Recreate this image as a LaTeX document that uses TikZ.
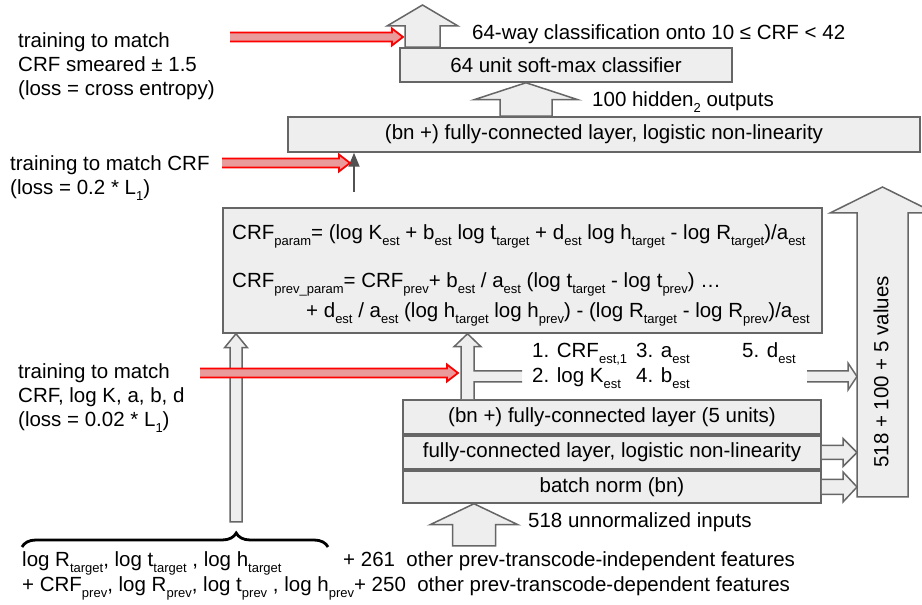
\documentclass[tikz,border=0pt]{standalone}
\usepackage{fontspec}
\setmainfont{Liberation Sans}
\usepackage{tikz}
\usetikzlibrary{arrows.meta}
\usetikzlibrary{calc}
\usetikzlibrary{decorations.pathreplacing}
\usetikzlibrary{positioning}

\definecolor{boxfill}{HTML}{EEEEEE}
\definecolor{boxline}{HTML}{666666}
\definecolor{redfill}{HTML}{E99A9A}

\newcommand{\txt}{\fontsize{20.5}{24}\selectfont}
\newcommand{\lowsub}[1]{\raisebox{-6pt}{\fontsize{13}{13}\selectfont #1}}

\tikzset{
  layer/.style={draw=boxline, fill=boxfill, line width=1.5pt, inner sep=0pt},
  blockarrow/.style={draw=boxline, fill=boxfill, line width=1.5pt},
  redarrow/.style={draw=red, fill=redfill, line width=1.8pt},
  thinarrow/.style={draw=boxline!80!black, line width=1.8pt, -{Triangle[length=14pt, width=11pt]}},
  featbrace/.style={decorate, decoration={brace, amplitude=14pt, aspect=0.7}, line width=2.8pt, black}
}

% upward block arrow: tail, tip, half shaft, half head, head length
\newcommand{\uparr}[5]{%
  \path[blockarrow] let \p1=(#1), \p2=(#2) in
    (\x1-#3,\y1) -- (\x1-#3,\y2-#5) -- (\x1-#4,\y2-#5) -- (\x1,\y2)
    -- (\x1+#4,\y2-#5) -- (\x1+#3,\y2-#5) -- (\x1+#3,\y1) -- cycle;}

% rightward block arrow with open tail
\newcommand{\rtarr}[6][blockarrow]{%
  \path[#1, draw=none] let \p1=(#2), \p2=(#3) in
    (\x1,\y1-#4) -- (\x2-#6,\y1-#4) -- (\x2-#6,\y1-#5) -- (\x2,\y1)
    -- (\x2-#6,\y1+#5) -- (\x2-#6,\y1+#4) -- (\x1,\y1+#4) -- cycle;
  \path[#1, fill=none] let \p1=(#2), \p2=(#3) in
    (\x1,\y1-#4) -- (\x2-#6,\y1-#4) -- (\x2-#6,\y1-#5) -- (\x2,\y1)
    -- (\x2-#6,\y1+#5) -- (\x2-#6,\y1+#4) -- (\x1,\y1+#4);}

\begin{document}
\begin{tikzpicture}[x=1pt, y=1pt, font=\txt, every node/.style={inner sep=0pt}]
    \useasboundingbox (0,0) rectangle (922,605);

    \begin{scope}[every node/.style={layer}]
        \node[minimum width=332pt, minimum height=34pt] (softmax) at (566,540) {64 unit soft-max classifier};
        \node[minimum width=632pt, minimum height=35pt] (fc2) at (604,470.5) {(bn +) fully-connected layer, logistic non-linearity};
        \node[minimum width=599pt, minimum height=125pt] (params) at (522.5,334.5) {};
        \node[minimum width=418pt, minimum height=34pt] (fc5) at (612,188) {(bn +) fully-connected layer (5 units)};
        \node[minimum width=418pt, minimum height=33pt] (fc1) at (612,152.5) {fully-connected layer, logistic non-linearity};
        \node[minimum width=418pt, minimum height=32pt] (bn) at (612,118) {batch norm (bn)};
    \end{scope}

    \coordinate (top) at (422.5,600);
    \coordinate (hid) at (526,0);
    \coordinate (allin) at (882.5,108);
    \coordinate (allout) at (882.5,418);
    \coordinate (allleft) at (857,108);
    \coordinate (feat) at (236,83);
    \coordinate (raw) at (474,59);
    \coordinate (est) at (467.5,0);
    \coordinate (estout) at (807,228.5);
    \coordinate (crf) at (354,413);

    \uparr{top |- softmax.north}{top}{17.5}{35.5}{21}
    \uparr{hid |- fc2.north}{hid |- softmax.south}{26}{52}{17}
    \uparr{allin}{allout}{25.5}{52.5}{26}
    \uparr{feat}{feat |- params.south}{6}{11.5}{14}
    \uparr{raw}{raw |- bn.south}{21.5}{44}{21}

    \path[blockarrow, draw=none] let \p1=(est |- fc5.north), \p2=(est |- params.south) in
        (\x1-6.5,\y1) -- (\x1-6.5,\y2-13) -- (\x1-13.5,\y2-13) -- (\x2,\y2) -- (\x1+13.5,\y2-13)
        -- (\x1+6.5,\y2-13) -- (\x1+6.5,234) -- (522,234) -- (522,223) -- (\x1+6.5,223) -- (\x1+6.5,\y1) -- cycle;
    \path[blockarrow, fill=none] let \p1=(est |- fc5.north), \p2=(est |- params.south) in
        (522,234) -- (\x1+6.5,234) -- (\x1+6.5,\y2-13) -- (\x1+13.5,\y2-13) -- (\x2,\y2)
        -- (\x1-13.5,\y2-13) -- (\x1-6.5,\y2-13) -- (\x1-6.5,\y1)
        (\x1+6.5,\y1) -- (\x1+6.5,223) -- (522,223);

    \rtarr{estout}{estout -| allleft}{5.5}{13.5}{9}
    \rtarr{fc1.east}{fc1.east -| allleft}{7}{14}{14}
    \rtarr{bn.east}{bn.east -| allleft}{7.5}{15}{14}

    \draw[thinarrow] (crf) -- (crf |- fc2.south);

    \coordinate (r1) at (230,568);
    \coordinate (r1e) at (403,568);
    \coordinate (r2) at (222,442);
    \coordinate (r2e) at (350,442);
    \coordinate (r3) at (200,232);
    \coordinate (r3e) at (458,232);
    \rtarr[redarrow]{r1}{r1e}{4.5}{8.5}{11}
    \rtarr[redarrow]{r2}{r2e}{4.5}{8.5}{11}
    \rtarr[redarrow]{r3}{r3e}{4.5}{8.5}{11}

    \node[anchor=north west, align=left] (target1) at (18,573) {training to match\\CRF smeared ± 1.5\\(loss = cross entropy)};
    \node[anchor=north west, align=left] (target2) at (10,450) {training to match CRF\\(loss = 0.2 * L\lowsub{1})};
    \node[anchor=north west, align=left] (target3) at (18,242) {training to match\\CRF, log K, a, b, d\\(loss = 0.02 * L\lowsub{1})};

    \node[anchor=base west] (classes) at (472,565) {64-way classification onto 10 ≤ CRF < 42};
    \node[anchor=base west] (hidden) at (592,498) {100 hidden\lowsub{2} outputs};
    \node[anchor=base west] (inputs) at (528,77) {518 unnormalized inputs};
    \node[rotate=90] (values) at (881,233) {518 + 100 + 5 values};

    \node[anchor=base west] (eq1) at (232,365) {CRF\lowsub{param}= (log K\lowsub{est} + b\lowsub{est} log t\lowsub{target} + d\lowsub{est} log h\lowsub{target} - log R\lowsub{target})/a\lowsub{est}};
    \node[anchor=base west] (eq2) at (232,317) {CRF\lowsub{prev\_param}= CRF\lowsub{prev}+ b\lowsub{est} / a\lowsub{est} (log t\lowsub{target} - log t\lowsub{prev}) …};
    \node[anchor=base west] (eq3) at (306,287) {+ d\lowsub{est} / a\lowsub{est} (log h\lowsub{target} log h\lowsub{prev}) - (log R\lowsub{target} - log R\lowsub{prev})/a\lowsub{est}};

    \node[anchor=base west] (e1) at (532,247) {1. CRF\lowsub{est,1}};
    \node[anchor=base west] (e3) at (636,247) {3. a\lowsub{est}};
    \node[anchor=base west] (e5) at (742,247) {5. d\lowsub{est}};
    \node[anchor=base west] (e2) at (532,222) {2. log K\lowsub{est}};
    \node[anchor=base west] (e4) at (636,222) {4. b\lowsub{est}};

    \coordinate (bl) at (22,58);
    \coordinate (br) at (328,58);
    \draw[featbrace] (bl) -- (br);

    \node[anchor=base west] (feat1) at (22,38) {log R\lowsub{target}, log t\lowsub{target} , log h\lowsub{target}};
    \node[anchor=base west] (feat2) at (343,38) {+ 261\ \ other prev-transcode-independent features};
    \node[anchor=base west] (feat3) at (22,13) {+ CRF\lowsub{prev}, log R\lowsub{prev}, log t\lowsub{prev} , log h\lowsub{prev}+ 250\ \ other prev-transcode-dependent features};
\end{tikzpicture}
\end{document}
